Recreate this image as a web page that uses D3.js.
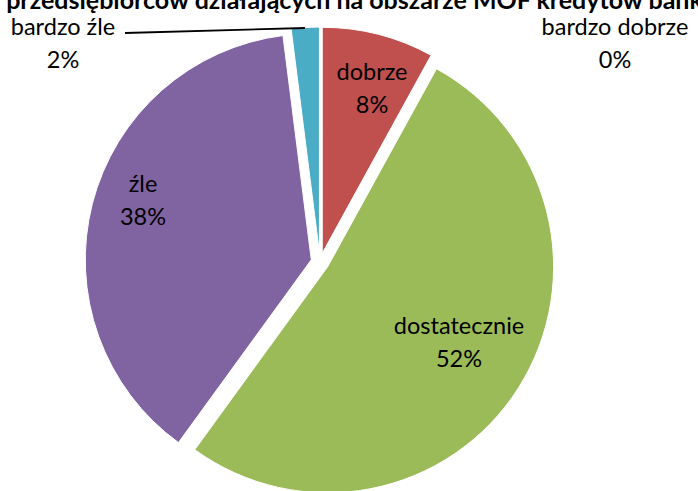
<!DOCTYPE html>
<html><head><meta charset="utf-8">
<script src="https://cdn.jsdelivr.net/npm/d3@7"></script>
<style>body{margin:0;background:#fff}svg{display:block}text{font-family:Lato,"Open Sans",sans-serif}</style>
</head><body><svg id="c" width="698" height="491"></svg>
<script>
const categories = ["bardzo dobrze", "dobrze", "dostatecznie", "źle", "bardzo źle"];
const values = [0, 8, 52, 38, 2];
const colors = ["#4F81BD", "#C0504D", "#9BBB59", "#8064A2", "#4BACC6"];
const title = "Ocena dostępności dla przedsiębiorców działających na obszarze MOF kredytów bankowych";

const svg = d3.select("#c");
const cx = 320, cy = 262, r = 226, explode = 9;

svg.append("text").attr("x", 262).attr("y", 9).attr("text-anchor", "middle")
  .attr("font-size", 25).attr("font-weight", "bold").attr("fill", "#000").text(title);

const pie = d3.pie().sort(null).value(d => d)(values);
const arc = d3.arc().innerRadius(0).outerRadius(r);
const g = svg.append("g").attr("transform", `translate(${cx},${cy})`);

pie.forEach((p, i) => {
  if (p.endAngle - p.startAngle <= 0) return;
  const m = (p.startAngle + p.endAngle) / 2;
  const dx = Math.sin(m) * explode, dy = -Math.cos(m) * explode;
  g.append("path").attr("d", arc(p)).attr("fill", colors[i])
    .attr("stroke", "#fff").attr("stroke-width", 1)
    .attr("transform", `translate(${dx},${dy})`);
});

const fs = 23.5;
function label(x, y, lines) {
  const t = svg.append("text").attr("text-anchor", "middle").attr("font-size", fs).attr("fill", "#000");
  lines.forEach((l, k) => t.append("tspan").attr("x", x).attr("y", y + k * 33).text(l));
}
const pct = v => Math.round(v) + "%";
label(372, 80, [categories[1], pct(values[1])]);
label(459, 334, [categories[2], pct(values[2])]);
label(143, 192, [categories[3], pct(values[3])]);
label(615, 35, [categories[0], pct(values[0])]);
label(63, 35, [categories[4], pct(values[4])]);
svg.append("path").attr("d", "M125,33 L305,28").attr("stroke", "#000").attr("stroke-width", 1.8).attr("fill", "none");
</script></body></html>
